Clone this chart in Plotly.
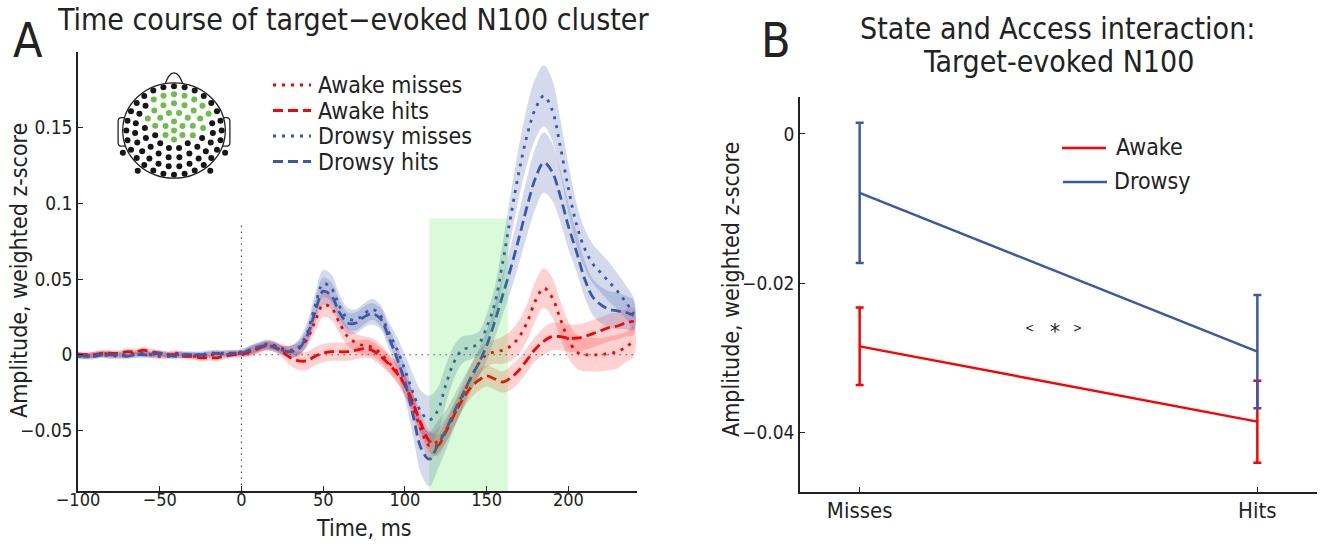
import math
import plotly.graph_objects as go

W, H = 1323, 544
FONT = "DejaVu Sans Condensed, Liberation Sans Narrow, DejaVu Sans, sans-serif"
INK = "#222222"
RED = "#ff0000"
BLUE = "#3c58a8"
RED_BAND = "rgba(255,0,0,0.18)"
BLUE_BAND = "rgba(60,88,168,0.22)"
DOT = "3px,6px"
DASH = "10px,5px"

# ---------------- Panel A: time course (ms) ----------------
time_ms = list(range(-100, 241, 5))

awake_misses = [
    0.000, -0.001, 0.000, 0.001, 0.000, -0.001, 0.000, 0.001, 0.001, 0.000,
    -0.001, 0.000, 0.001, 0.000, -0.001, -0.001, 0.000, 0.000, 0.001, 0.001,
    0.001, 0.002, 0.004, 0.006, 0.006, 0.004, 0.003, 0.004, 0.010, 0.022,
    0.033, 0.031, 0.021, 0.012, 0.008, 0.006, 0.005, 0.001, -0.005, -0.011,
    -0.020, -0.034, -0.050, -0.060, -0.057, -0.050, -0.040, -0.028, -0.016, -0.006,
    0.000, 0.002, 0.003, 0.006, 0.012, 0.022, 0.036, 0.044, 0.038, 0.024,
    0.010, 0.002, 0.000, 0.000, 0.000, 0.001, 0.002, 0.005, 0.009,
]
awake_hits = [
    0.000, 0.000, 0.000, 0.001, 0.001, 0.001, 0.002, 0.002, 0.003, 0.002,
    0.001, 0.000, 0.000, -0.001, -0.001, -0.002, -0.002, -0.002, -0.001, 0.000,
    0.000, 0.002, 0.004, 0.006, 0.005, 0.002, -0.002, -0.004, -0.004, -0.001,
    0.001, 0.002, 0.002, 0.002, 0.003, 0.004, 0.003, -0.001, -0.006, -0.012,
    -0.020, -0.032, -0.046, -0.057, -0.060, -0.051, -0.040, -0.030, -0.022, -0.017,
    -0.014, -0.016, -0.018, -0.015, -0.010, -0.003, 0.004, 0.009, 0.012, 0.012,
    0.011, 0.011, 0.012, 0.014, 0.016, 0.018, 0.019, 0.021, 0.022,
]
drowsy_misses = [
    -0.001, -0.001, 0.000, 0.000, -0.001, 0.000, 0.000, 0.000, 0.001, 0.000,
    0.000, -0.001, 0.000, 0.000, 0.000, 0.000, 0.001, 0.001, 0.001, 0.001,
    0.002, 0.003, 0.005, 0.007, 0.006, 0.003, 0.002, 0.005, 0.014, 0.032,
    0.047, 0.044, 0.032, 0.024, 0.023, 0.027, 0.030, 0.026, 0.015, 0.004,
    -0.010, -0.025, -0.038, -0.043, -0.037, -0.020, -0.005, 0.003, 0.005, 0.007,
    0.018, 0.034, 0.062, 0.093, 0.122, 0.146, 0.163, 0.171, 0.162, 0.138,
    0.110, 0.086, 0.070, 0.060, 0.054, 0.048, 0.042, 0.035, 0.027,
]
drowsy_hits = [
    0.000, -0.001, -0.001, 0.000, 0.000, 0.000, -0.001, 0.000, 0.000, 0.000,
    0.001, 0.000, -0.001, 0.000, 0.000, 0.000, 0.000, 0.001, 0.000, 0.001,
    0.001, 0.003, 0.005, 0.006, 0.005, 0.003, 0.002, 0.004, 0.012, 0.028,
    0.042, 0.039, 0.028, 0.021, 0.021, 0.025, 0.027, 0.024, 0.012, -0.002,
    -0.018, -0.040, -0.062, -0.069, -0.060, -0.050, -0.038, -0.027, -0.016, -0.006,
    0.006, 0.022, 0.040, 0.058, 0.078, 0.099, 0.117, 0.127, 0.121, 0.105,
    0.085, 0.068, 0.050, 0.038, 0.033, 0.030, 0.029, 0.028, 0.026,
]

# standard errors drawn as shaded bands
awake_misses_se = [0.002] * 20 + [
    0.002, 0.003, 0.003, 0.003, 0.003, 0.003, 0.003, 0.004, 0.005, 0.007,
    0.008, 0.008, 0.007, 0.006, 0.006, 0.006, 0.006, 0.006, 0.006, 0.007,
    0.007, 0.008, 0.008, 0.008, 0.008, 0.008, 0.008, 0.008, 0.008, 0.008,
    0.008, 0.008, 0.009, 0.010, 0.011, 0.012, 0.013, 0.013, 0.013, 0.012,
    0.012, 0.011, 0.011, 0.011, 0.011, 0.011, 0.011, 0.010, 0.010,
]
awake_hits_se = [0.002] * 20 + [
    0.002, 0.003, 0.003, 0.003, 0.003, 0.004, 0.005, 0.006, 0.006, 0.006,
    0.006, 0.006, 0.006, 0.006, 0.006, 0.006, 0.006, 0.006, 0.006, 0.006,
    0.007, 0.007, 0.007, 0.007, 0.007, 0.007, 0.007, 0.007, 0.007, 0.007,
    0.007, 0.007, 0.007, 0.008, 0.008, 0.008, 0.008, 0.009, 0.009, 0.009,
    0.009, 0.009, 0.009, 0.009, 0.009, 0.009, 0.009, 0.009, 0.009,
]
drowsy_misses_se = [0.002] * 20 + [
    0.002, 0.003, 0.003, 0.003, 0.003, 0.003, 0.004, 0.005, 0.007, 0.008,
    0.009, 0.009, 0.008, 0.007, 0.007, 0.007, 0.007, 0.007, 0.007, 0.008,
    0.010, 0.012, 0.014, 0.016, 0.015, 0.013, 0.011, 0.009, 0.008, 0.008,
    0.009, 0.011, 0.013, 0.015, 0.017, 0.019, 0.020, 0.020, 0.020, 0.018,
    0.016, 0.014, 0.013, 0.013, 0.013, 0.013, 0.012, 0.011, 0.010,
]
drowsy_hits_se = [0.002] * 20 + [
    0.002, 0.003, 0.003, 0.003, 0.003, 0.003, 0.004, 0.005, 0.006, 0.008,
    0.009, 0.009, 0.008, 0.007, 0.007, 0.007, 0.007, 0.007, 0.007, 0.008,
    0.011, 0.014, 0.017, 0.018, 0.016, 0.013, 0.011, 0.010, 0.009, 0.009,
    0.010, 0.011, 0.013, 0.015, 0.017, 0.019, 0.020, 0.020, 0.019, 0.017,
    0.015, 0.013, 0.012, 0.012, 0.012, 0.012, 0.012, 0.011, 0.010,
]

series_labels = ["Awake misses", "Awake hits", "Drowsy misses", "Drowsy hits"]
window_ms = [115, 163]          # shaded analysis window
x_ticks_a = [-100, -50, 0, 50, 100, 150, 200]
y_ticks_a = [-0.05, 0, 0.05, 0.1, 0.15]
y_ticktext_a = ["\u22120.05", "0", "0.05", "0.1", "0.15"]

# ---------------- Panel B: state x access ----------------
conditions = ["Misses", "Hits"]
awake_mean = [-0.0285, -0.0386]
awake_err = [0.0052, 0.0055]
drowsy_mean = [-0.0079, -0.0292]
drowsy_err = [0.0094, 0.0076]
y_ticks_b = [0, -0.02, -0.04]
y_ticktext_b = ["0", "\u22120.02", "\u22120.04"]

# ---------------- Sensor montage for the inset ----------------
ring_radius = [0.0, 0.19, 0.38, 0.57, 0.76, 0.93]
ring_count = [1, 6, 12, 17, 23, 28]
ring_phase = [0, 90, 75, 90, 90, 90]
outer_angles = [-25, -50, -130, -155]


def px_x(p):
    return p / W


def px_y(p):
    return 1 - p / H


def tick_fmt(v):
    return f"{v:g}".replace("-", "\u2212")


fig = go.Figure()

series = [
    (awake_misses, awake_misses_se, RED, RED_BAND, DOT),
    (awake_hits, awake_hits_se, RED, RED_BAND, DASH),
    (drowsy_misses, drowsy_misses_se, BLUE, BLUE_BAND, DOT),
    (drowsy_hits, drowsy_hits_se, BLUE, BLUE_BAND, DASH),
]

for mean, se, col, band, dash in series:
    upper = [m + s for m, s in zip(mean, se)]
    lower = [m - s for m, s in zip(mean, se)]
    fig.add_trace(go.Scatter(
        x=time_ms + time_ms[::-1], y=upper + lower[::-1],
        fill="toself", fillcolor=band, mode="lines",
        line=dict(width=0, shape="spline"), hoverinfo="skip",
        showlegend=False, xaxis="x", yaxis="y"))

for (mean, se, col, band, dash), name in zip(series, series_labels):
    fig.add_trace(go.Scatter(
        x=time_ms, y=mean, mode="lines", name=name,
        line=dict(color=col, width=2.8, dash=dash, shape="spline"),
        showlegend=False, xaxis="x", yaxis="y"))

# Panel B lines with error bars
cond_x = [i + 1 for i in range(len(conditions))]
for mean, err, col, name in [(awake_mean, awake_err, RED, "Awake"),
                             (drowsy_mean, drowsy_err, BLUE, "Drowsy")]:
    fig.add_trace(go.Scatter(
        x=cond_x, y=mean, mode="lines", name=name,
        line=dict(color=col, width=2.5),
        error_y=dict(type="data", array=err, color=col, thickness=2.5, width=4),
        showlegend=False, xaxis="x2", yaxis="y2"))

# Inset sensor layout
ex, ey = [], []
for r, n, ph in zip(ring_radius, ring_count, ring_phase):
    for k in range(n):
        a = math.radians(ph + 360.0 * k / n)
        ex.append(r * math.cos(a))
        ey.append(r * math.sin(a))
for a in outer_angles:
    ex.append(1.1 * math.cos(math.radians(a)))
    ey.append(1.1 * math.sin(math.radians(a)))
in_cluster = [((x - 0.08) / 0.66) ** 2 + ((y - 0.30) / 0.52) ** 2 < 1 for x, y in zip(ex, ey)]
fig.add_trace(go.Scatter(
    x=ex, y=ey, mode="markers", hoverinfo="skip", showlegend=False,
    marker=dict(size=6, color=["#6cbf4a" if g else "#161616" for g in in_cluster],
                line=dict(width=0)),
    xaxis="x3", yaxis="y3"))

shapes = []
# analysis window
shapes.append(dict(type="rect", xref="x", yref="y", x0=window_ms[0], x1=window_ms[1],
                   y0=-0.09, y1=0.09, fillcolor="rgb(0,230,0)", opacity=0.15,
                   line=dict(width=0), layer="above"))
# stimulus onset and baseline
shapes.append(dict(type="line", xref="x", yref="y", x0=0, x1=0, y0=-0.09, y1=0.088,
                   line=dict(color="#555555", width=1.2, dash="1.5px,4.5px"), layer="below"))
shapes.append(dict(type="line", xref="x", yref="y", x0=0, x1=242, y0=0, y1=0,
                   line=dict(color="#555555", width=1.2, dash="1.5px,4.5px"), layer="below"))

# head outline
head_line = dict(color="#222222", width=1.3)
shapes.append(dict(type="circle", xref="x3", yref="y3", x0=-1, x1=1, y0=-1, y1=1,
                   line=head_line))
shapes.append(dict(type="path", xref="x3", yref="y3",
                   path="M -0.17,0.985 C -0.12,1.12 -0.08,1.21 0,1.21 C 0.08,1.21 0.12,1.12 0.17,0.985",
                   line=head_line))
shapes.append(dict(type="path", xref="x3", yref="y3",
                   path="M -0.965,0.27 L -1.02,0.27 Q -1.09,0.27 -1.09,0.19 L -1.09,-0.25 Q -1.09,-0.33 -1.02,-0.33 L -0.945,-0.33",
                   line=head_line))
shapes.append(dict(type="path", xref="x3", yref="y3",
                   path="M 0.965,0.27 L 1.02,0.27 Q 1.09,0.27 1.09,0.19 L 1.09,-0.25 Q 1.09,-0.33 1.02,-0.33 L 0.945,-0.33",
                   line=head_line))

annotations = []

# Panel A legend
leg_a_rows = [85, 110.5, 136, 161.5]
for (mean, se, col, band, dash), name, yy in zip(series, series_labels, leg_a_rows):
    shapes.append(dict(type="line", xref="paper", yref="paper",
                       x0=px_x(273), x1=px_x(311), y0=px_y(yy), y1=px_y(yy),
                       line=dict(color=col, width=2.8, dash=dash)))
    annotations.append(dict(xref="paper", yref="paper", x=px_x(316), y=px_y(yy),
                            text=name, showarrow=False, xanchor="left", yanchor="middle",
                            font=dict(size=23, color=INK)))

# Panel B legend
for name, col, yy, x0, x1, xt in [("Awake", RED, 148, 1062, 1106, 1114),
                                  ("Drowsy", BLUE, 182, 1063, 1107, 1112)]:
    shapes.append(dict(type="line", xref="paper", yref="paper",
                       x0=px_x(x0), x1=px_x(x1), y0=px_y(yy), y1=px_y(yy),
                       line=dict(color=col, width=2.5)))
    annotations.append(dict(xref="paper", yref="paper", x=px_x(xt), y=px_y(yy - 1),
                            text=name, showarrow=False, xanchor="left", yanchor="middle",
                            font=dict(size=23, color=INK)))

# titles and panel letters
annotations += [
    dict(xref="paper", yref="paper", x=px_x(28), y=px_y(40), text="A", showarrow=False,
         xanchor="center", yanchor="middle", font=dict(size=48, color=INK)),
    dict(xref="paper", yref="paper", x=px_x(776), y=px_y(40), text="B", showarrow=False,
         xanchor="center", yanchor="middle", font=dict(size=48, color=INK)),
    dict(xref="paper", yref="paper", x=px_x(55), y=px_y(20),
         text="Time course of target\u2212evoked N100 cluster", showarrow=False,
         xanchor="left", yanchor="middle", font=dict(size=30, color=INK)),
    dict(xref="paper", yref="paper", x=px_x(1057), y=px_y(28),
         text="State and Access interaction:", showarrow=False,
         xanchor="center", yanchor="middle", font=dict(size=30, color=INK)),
    dict(xref="paper", yref="paper", x=px_x(1058), y=px_y(61),
         text="Target-evoked N100", showarrow=False,
         xanchor="center", yanchor="middle", font=dict(size=30, color=INK)),
    # axis titles
    dict(xref="paper", yref="paper", x=px_x(19), y=px_y(271),
         text="Amplitude, weighted z-score", showarrow=False, textangle=-90,
         xanchor="center", yanchor="middle", font=dict(size=23, color=INK)),
    dict(xref="paper", yref="paper", x=px_x(364), y=px_y(528),
         text="Time, ms", showarrow=False,
         xanchor="center", yanchor="middle", font=dict(size=23, color=INK)),
    dict(xref="paper", yref="paper", x=px_x(731), y=px_y(290),
         text="Amplitude, weighted z-score", showarrow=False, textangle=-90,
         xanchor="center", yanchor="middle", font=dict(size=23, color=INK)),
    # interaction marker
    dict(xref="x2", yref="y2", x=1.49, y=-0.026, text="<", showarrow=False,
         xshift=-25, font=dict(size=12, color=INK)),
    dict(xref="x2", yref="y2", x=1.49, y=-0.026, text="*", showarrow=False,
         yshift=-4, font=dict(size=22, color=INK)),
    dict(xref="x2", yref="y2", x=1.49, y=-0.026, text=">", showarrow=False,
         xshift=23, font=dict(size=12, color=INK)),
]

axis_common = dict(showline=True, linecolor=INK, linewidth=1.5, ticks="inside",
                   ticklen=5, tickcolor=INK, tickwidth=1.2, showgrid=False,
                   zeroline=False, automargin=False, tickfont=dict(size=19, color=INK))

fig.update_layout(
    template="none",
    width=W, height=H, margin=dict(l=0, r=0, t=0, b=0, pad=0, autoexpand=False),
    paper_bgcolor="white", plot_bgcolor="rgba(0,0,0,0)",
    font=dict(family=FONT, color=INK),
    showlegend=False,
    xaxis=dict(domain=[78 / W, 637 / W], range=[-100, 242], anchor="y",
               tickvals=x_ticks_a, ticktext=[tick_fmt(v) for v in x_ticks_a],
               ticklabelstandoff=-8,
               **{**axis_common, "tickfont": dict(size=18, color=INK)}),
    yaxis=dict(domain=[(H - 491) / H, (H - 52) / H], range=[-0.09, 0.2], anchor="x",
               tickvals=y_ticks_a, ticktext=y_ticktext_a, **axis_common),
    xaxis2=dict(domain=[800 / W, 1317 / W], range=[0.85, 2.15], anchor="y2",
                tickvals=cond_x, ticktext=conditions, ticklabelstandoff=-2,
                **{**axis_common, "tickfont": dict(size=22, color=INK)}),
    yaxis2=dict(domain=[52.3 / H, 447.3 / H], range=[-0.048, 0.005], anchor="x2",
                tickvals=y_ticks_b, ticktext=y_ticktext_b, **axis_common),
    xaxis3=dict(domain=[114 / W, 234 / W], range=[-1.17, 1.17], visible=False,
                anchor="y3", fixedrange=True, automargin=False),
    yaxis3=dict(domain=[(H - 190.5) / H, (H - 70.5) / H], range=[-1.26, 1.26],
                visible=False, anchor="x3", fixedrange=True, automargin=False),
    shapes=shapes,
    annotations=annotations,
)

fig.write_html("out.html")
